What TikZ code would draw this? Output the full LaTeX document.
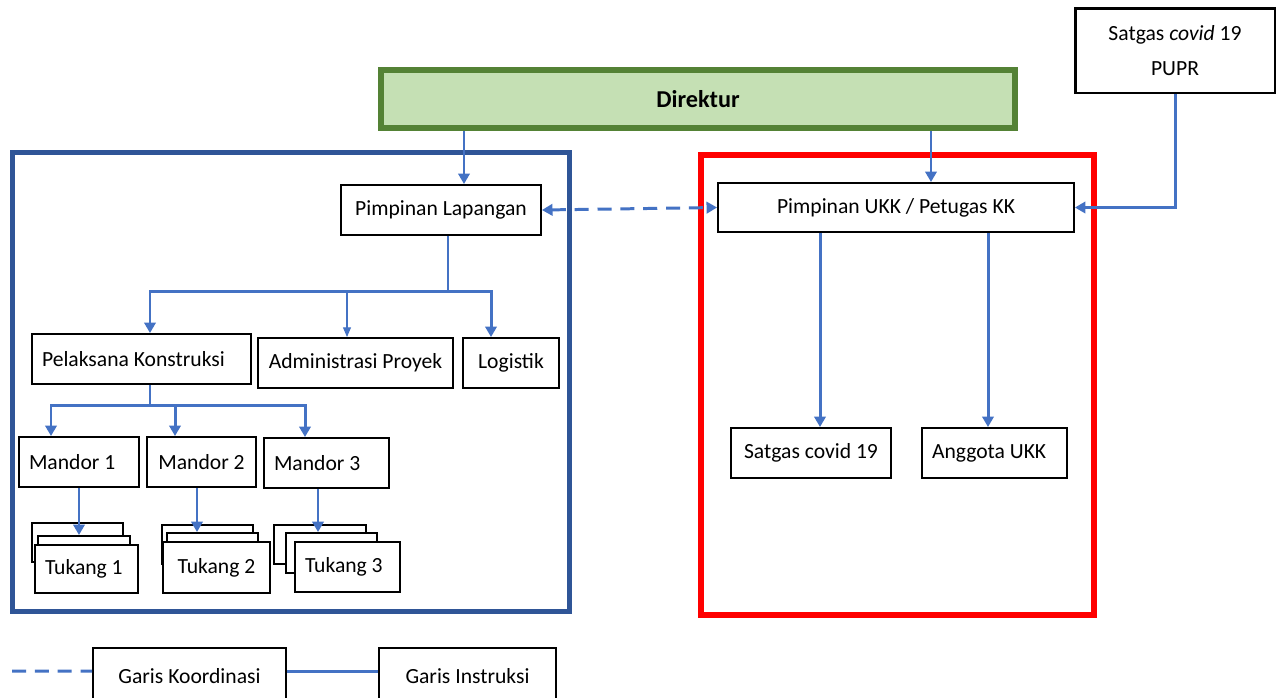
\documentclass[tikz,border=0pt]{standalone}
\usepackage{fontspec}
\setmainfont{Carlito}
\usetikzlibrary{arrows.meta}
\definecolor{lineblue}{HTML}{4472C4}
\definecolor{frameblue}{HTML}{2F5597}
\definecolor{dirgreen}{HTML}{548235}
\definecolor{dirfill}{HTML}{C5E0B4}
\begin{document}
\begin{tikzpicture}[x=0.02cm,y=-0.02cm,line join=miter,
  box/.style={draw,line width=1.1pt,fill=white,inner sep=0pt,minimum height=1cm,
    font=\fontsize{12.3pt}{14pt}\selectfont},
  lbox/.style={box,align=flush left,inner xsep=0.2cm},
  stk/.style={draw,line width=1.1pt,fill=white,inner sep=0pt},
  instr/.style={draw=lineblue,line width=1.7pt},
  arr/.style={-{Triangle[width=6.5pt,length=6pt]}},
  koord/.style={instr,dash pattern=on 8pt off 5pt}]
  \useasboundingbox[fill=white] (0,0) rectangle (1281,697);
  \clip (0,0) rectangle (1281,697);
  % frames
  \draw[frameblue,line width=2.8pt] (12.5,152.5) rectangle (569.5,611.5);
  \draw[red,line width=3.4pt] (701,155) rectangle (1094,615);
  % top
  \node[box,line width=3.4pt,draw=dirgreen,fill=dirfill,minimum width=12.68cm,minimum height=1.16cm,
    font=\bfseries\fontsize{13.8pt}{16pt}\selectfont] (dir) at (698,99) {Direktur};
  \node[box,line width=1.7pt,minimum width=4cm,minimum height=1.7cm,align=center,
    font=\fontsize{12.3pt}{19.8pt}\selectfont] (pupr) at (1175,50.5) {Satgas \textit{covid} 19\\PUPR};
  \node[box,minimum width=4cm] (pl) at (441,210) {Pimpinan Lapangan};
  \node[box,minimum width=7.12cm,minimum height=0.98cm] (ukk) at (896,207.5) {Pimpinan UKK / Petugas KK};
  % left side
  \node[lbox,text width=3.98cm] (pk) at (141.5,359) {Pelaksana Konstruksi};
  \node[box,minimum width=3.9cm] (ap) at (355.5,363) {Administrasi Proyek};
  \node[box,minimum width=1.92cm] (log) at (511,363) {Logistik};
  \node[lbox,text width=2cm] (m1) at (79,462) {Mandor 1};
  \node[box,minimum width=2.18cm] (m2) at (201.5,462) {Mandor 2};
  \node[lbox,text width=2.1cm] (m3) at (326.5,463) {Mandor 3};
  \node[stk,minimum width=1.82cm,minimum height=0.78cm] (t1a) at (77.5,542.5) {};
  \node[stk,minimum width=1.84cm,minimum height=0.48cm] (t1b) at (84,548) {};
  \node[lbox,text width=1.66cm,minimum height=0.96cm] (t1) at (86.5,569) {Tukang 1};
  \node[stk,minimum width=1.82cm,minimum height=0.78cm] (t2a) at (207.5,544.5) {};
  \node[stk,minimum width=1.82cm,minimum height=0.52cm] (t2b) at (212.5,546) {};
  \node[box,minimum width=2.14cm,minimum height=1.02cm] (t2) at (216.5,567.5) {Tukang 2};
  \node[stk,minimum width=1.84cm,minimum height=0.78cm] (t3a) at (320,544.5) {};
  \node[stk,minimum width=1.82cm,minimum height=0.8cm] (t3b) at (331.5,553) {};
  \node[lbox,text width=1.7cm] (t3) at (347.5,567) {Tukang 3};
  % right side
  \node[box,minimum width=3.2cm] (sc) at (811,453) {Satgas covid 19};
  \node[lbox,text width=2.5cm] (au) at (994.5,453) {Anggota UKK};
  % legend
  \node[box,minimum width=3.86cm,minimum height=1.12cm] (gk) at (189.5,676) {Garis Koordinasi};
  \node[box,minimum width=3.54cm,minimum height=1.12cm] (gi) at (467.5,676) {Garis Instruksi};
  \coordinate (kstart) at (12,671);
  % connectors
  \coordinate (plin) at ([xshift=0.46cm]pl.north);
  \coordinate (ukkin) at ([xshift=0.7cm]ukk.north);
  \coordinate (plb) at (448,291);
  \coordinate (pkin) at ([xshift=0.17cm]pk.north);
  \coordinate (apin) at ([xshift=-0.17cm]ap.north);
  \coordinate (login) at ([xshift=-0.4cm]log.north);
  \coordinate (pkb) at (150,405);
  \coordinate (m1in) at ([xshift=-0.56cm]m1.north);
  \coordinate (m2in) at ([xshift=-0.53cm]m2.north);
  \coordinate (m3in) at ([xshift=-0.43cm]m3.north);
  \coordinate (m2out) at ([xshift=-0.09cm]m2.south);
  \coordinate (m3out) at ([xshift=-0.17cm]m3.south);
  \coordinate (scin) at ([xshift=0.18cm]sc.north);
  \coordinate (auin) at ([xshift=-0.13cm]au.north);
  \draw[instr,arr] (dir.south -| plin) -- (plin);
  \draw[instr,arr] (dir.south -| ukkin) -- (ukkin);
  \draw[instr,arr] (pupr.south) |- (ukk.east);
  \draw[koord,{Triangle[width=6.5pt,length=6pt]}-{Triangle[width=6.5pt,length=6pt]}] (pl.east) -- (ukk.west);
  \draw[instr] (pl.south -| plb) -- (plb);
  \draw[instr,arr] (plb) -| (pkin);
  \draw[instr,arr] (plb) -| (login);
  \draw[lineblue,line width=0.6pt,-{Triangle[width=4.5pt,length=5.5pt]}] (apin |- plb) -- (apin);
  \draw[instr] (pk.south -| pkb) -- (pkb);
  \draw[instr,arr] (pkb) -| (m1in);
  \draw[instr,arr] (pkb) -| (m3in);
  \draw[instr,arr] (pkb -| m2in) -- (m2in);
  \draw[instr,arr] (m1.south) -- (m1.south |- t1b.north);
  \draw[instr,arr] (m2out) -- (m2out |- t2b.north);
  \draw[instr,arr] (m3out) -- (m3out |- t3b.north);
  \draw[instr,arr] (ukk.south -| scin) -- (scin);
  \draw[instr,arr] (ukk.south -| auin) -- (auin);
  \draw[koord] (kstart) -- ([yshift=0.1cm]gk.west);
  \draw[instr] ([yshift=0.1cm]gk.east) -- ([yshift=0.1cm]gi.west);
\end{tikzpicture}
\end{document}
